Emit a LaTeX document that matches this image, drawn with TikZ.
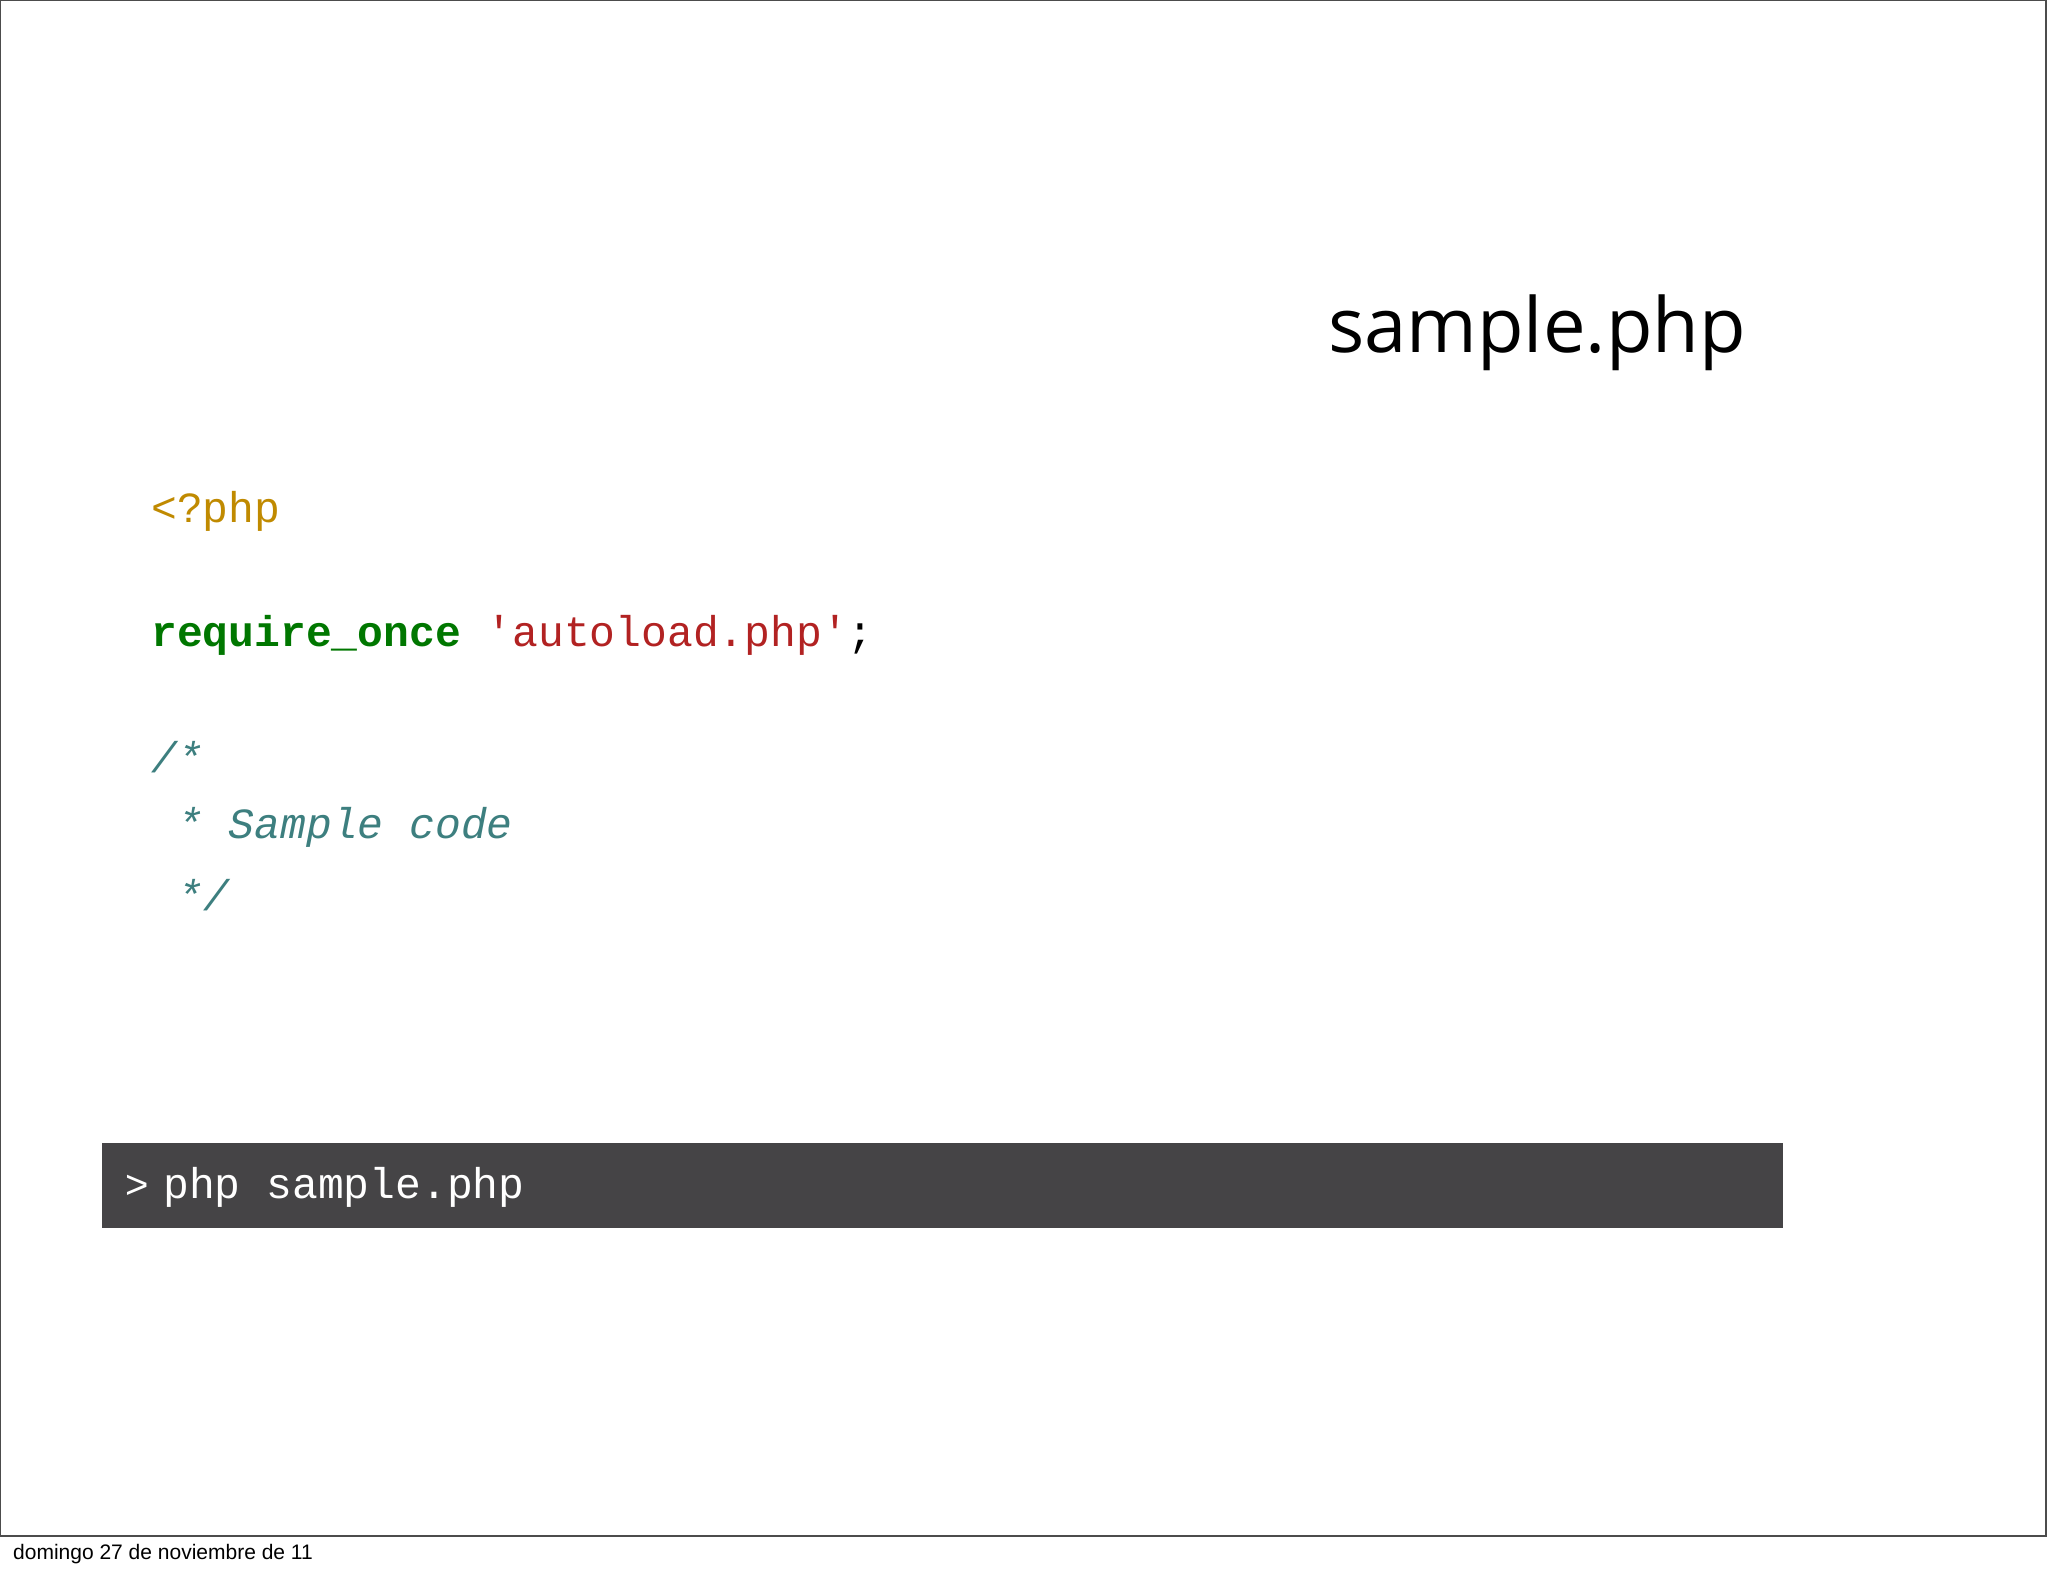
\documentclass[tikz,border=0pt]{standalone}
\usepackage{fontspec}
\setmainfont{Liberation Sans}
\newfontfamily\codefont{Liberation Mono}
\newfontfamily\titlefont{Open Sans}
\definecolor{phporange}{HTML}{C08A00}
\definecolor{phpgreen}{HTML}{007700}
\definecolor{phpred}{HTML}{B22222}
\definecolor{phpcomment}{HTML}{3D7F7F}
\definecolor{termbg}{HTML}{454446}
\begin{document}
\begin{tikzpicture}[x=1pt,y=-1pt,
  code/.style={anchor=west,inner sep=0pt,font=\codefont\fontsize{43}{43}\selectfont},
  every node/.style={inner sep=0pt}]
\useasboundingbox (0,0) rectangle (2048,1576);
\fill[white] (0,0) rectangle (2048,1576);
\draw[line width=1.3pt,black!70] (0.7,0.7) rectangle (2046,1536);
\node[anchor=west,font=\fontsize{21}{21}\selectfont] (foot) at (13,1554) {domingo 27 de noviembre de 11};
\node[anchor=west,font=\titlefont\fontsize{76}{76}\selectfont] (title) at (1328,333) {sample.php};
\node[code,text=phporange] (l1) at (151,511) {<?php};
\node[code] (l2) at (151,635) {\textcolor{phpgreen}{\bfseries require\_once} \textcolor{phpred}{'autoload.php'};};
\node[code,text=phpcomment,font=\codefont\itshape\fontsize{43}{43}\selectfont] (l3) at (151,757) {/*};
\node[code,text=phpcomment,font=\codefont\itshape\fontsize{43}{43}\selectfont] (l4) at (177,827) {* Sample code};
\node[code,text=phpcomment,font=\codefont\itshape\fontsize{43}{43}\selectfont] (l5) at (177,895) {*/};
\fill[termbg] (102,1143) rectangle (1783,1228);
\node[anchor=west,text=white,font=\fontsize{40}{40}\selectfont] (prompt) at (125,1187) {>};
\node[code,text=white] (cmd) at (163,1187) {php sample.php};
\end{tikzpicture}
\end{document}
